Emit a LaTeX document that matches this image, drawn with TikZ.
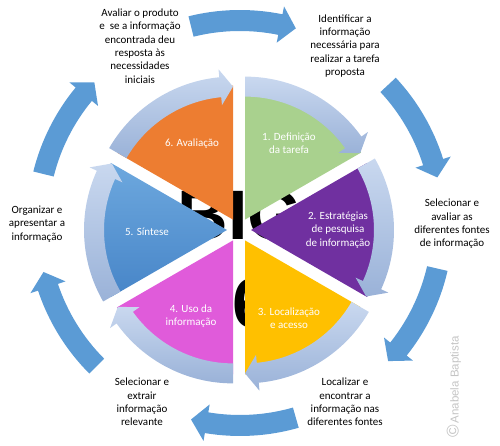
\documentclass[tikz,border=0pt]{standalone}
\usepackage{fontspec}
\setmainfont{Carlito}
\newfontfamily\wmfont{Liberation Sans}
\newfontfamily\bigfont{Liberation Sans}
\definecolor{wgreen}{HTML}{A9D18E}
\definecolor{wpurple}{HTML}{7030A0}
\definecolor{wgold}{HTML}{FFC000}
\definecolor{wmagenta}{HTML}{E05BDA}
\definecolor{wbluetop}{HTML}{6DA8DE}
\definecolor{wbluebot}{HTML}{4785C8}
\definecolor{worange}{HTML}{ED7D31}
\definecolor{bandtop}{HTML}{C9D8EF}
\definecolor{bandbot}{HTML}{9AB2D8}
\definecolor{outerblue}{HTML}{5B9BD5}
\definecolor{wmgrey}{HTML}{C4C4C4}
\tikzset{
  steptext/.style={align=center, text=black, font=\fontsize{11}{13.3}\selectfont, inner sep=0pt},
  wedgetext/.style={align=center, text=white, font=\fontsize{11}{13.3}\selectfont, inner sep=0pt},
  bandshade/.style={top color=bandtop, bottom color=bandbot},
  outerarrow/.style={fill=outerblue}
}
\begin{document}
\begin{tikzpicture}[x=1pt,y=1pt]
\useasboundingbox (0,0) rectangle (500,446);
\coordinate (C) at (239,216);
\coordinate (O) at (240,223);

% background BIG 6 lettering
\node[anchor=base, inner sep=0pt, font=\bigfont\bfseries\fontsize{70}{70}\selectfont] (big) at (240,206) {BIG};
\node[anchor=base, inner sep=0pt, font=\bigfont\bfseries\fontsize{70}{70}\selectfont] (six) at (252,118) {6};

% wedges with their inner circular arrows
\foreach \b/\col in {60/wgreen, 0/wpurple, -60/wgold, -120/wmagenta, 120/worange}{
  \begin{scope}[shift={(C)}, shift={(\b:12)}]
    \fill[\col] (0,0) -- ({\b-30}:134) arc[start angle=\b-30, end angle=\b+30, radius=134] -- cycle;
  \end{scope}
}
\begin{scope}[shift={(C)}, shift={(180:12)}]
  \shade[top color=wbluetop, bottom color=wbluebot] (0,0) -- (150:134) arc[start angle=150, end angle=210, radius=134] -- cycle;
\end{scope}
\foreach \b in {60, 0, -60, -120, 180, 120}{
  \begin{scope}[shift={(C)}, shift={(\b:12)}]
    \shade[bandshade] ({\b+30}:143) arc[start angle=\b+30, end angle=\b-24.5, radius=143]
      -- ({\b-24.5}:151) -- ({\b-30}:133) -- ({\b-24.5}:115) -- ({\b-24.5}:123)
      arc[start angle=\b-24.5, end angle=\b+30, radius=123] -- cycle;
  \end{scope}
}

% outer circular arrows
\foreach \s/\e in {104/74, 43/13, -13/-43, -74/-104, -135/-166, 166/136}{
  \begin{scope}[shift={(O)}]
    \fill[outerarrow] (\s:213) arc[start angle=\s, end angle=\e+4.5, radius=213]
      -- ({\e+4.5}:221) -- (\e:202.5) -- ({\e+4.5}:184) -- ({\e+4.5}:192)
      arc[start angle=\e+4.5, end angle=\s, radius=192] -- cycle;
  \end{scope}
}

% wedge labels
\node[wedgetext] (w1) at (289,303) {1. Definição\\da tarefa};
\node[wedgetext] (w2) at (338,216) {2. Estratégias\\de pesquisa\\de informação};
\node[wedgetext] (w3) at (289,128) {3. Localização\\e acesso};
\node[wedgetext] (w4) at (191,130) {4. Uso da\\informação};
\node[wedgetext] (w5) at (147,214) {5. Síntese};
\node[wedgetext] (w6) at (192,302) {6. Avaliação};

% outer labels
\node[steptext] (t6) at (140,400) {Avaliar o produto\\e\ \ se a informação\\encontrada deu\\resposta às\\necessidades\\iniciais};
\node[steptext] (t1) at (345,400) {Identificar a\\informação\\necessária para\\realizar a tarefa\\proposta};
\node[steptext] (t2) at (452,222) {Selecionar e\\avaliar as\\diferentes fontes\\de informação};
\node[steptext] (t3) at (345,44) {Localizar e\\encontrar a\\informação nas\\diferentes fontes};
\node[steptext] (t4) at (142,44) {Selecionar e\\extrair\\informação\\relevante};
\node[steptext] (t5) at (37,222) {Organizar e\\apresentar a\\informação};

% watermark
\node[rotate=90, inner sep=0pt, text=wmgrey, font=\wmfont\fontsize{11.5}{11.5}\selectfont] (wm) at (454,59) {{\fontsize{17}{17}\selectfont ©}\,Anabela Baptista};
\end{tikzpicture}
\end{document}
